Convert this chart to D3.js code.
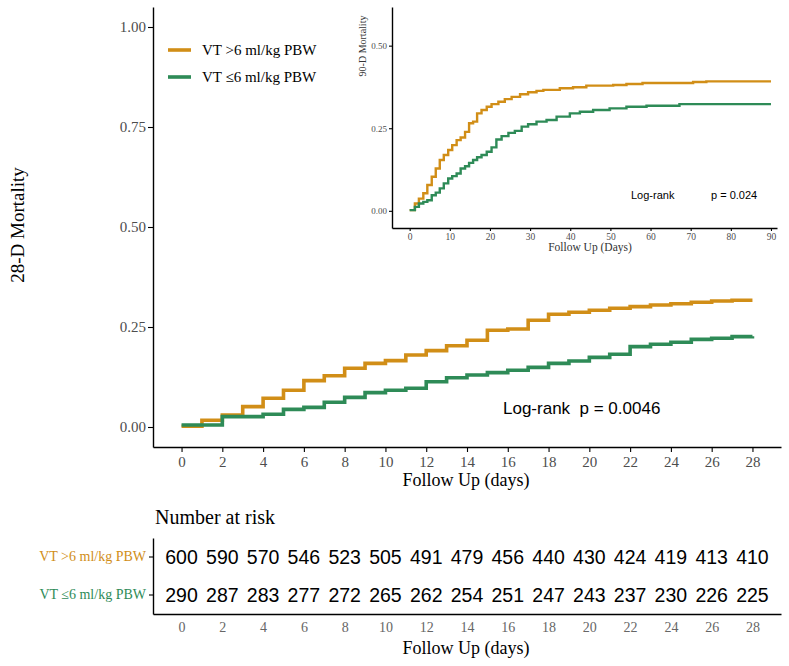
<!DOCTYPE html>
<html>
  <head>
    <meta charset="utf-8" />
    <title>28-D Mortality</title>
    <script src="https://d3js.org/d3.v7.min.js"></script>
    <style>
      body { margin: 0; background: #fff; }
    </style>
  </head>
  <body>
    <svg id="chart" width="789" height="666"></svg>
    <script>
      // groups and colours
      const groups = ["VT >6 ml/kg PBW", "VT \u22646 ml/kg PBW"];
      const colors = ["#D18E17", "#2E8B57"];

      // 28-day curves: value held from each day to the next
      const days28 = d3.range(0, 29);
      const high28 = [0.002, 0.017, 0.030, 0.051, 0.072, 0.092, 0.116, 0.128, 0.147, 0.159,
        0.166, 0.180, 0.191, 0.203, 0.217, 0.242, 0.245, 0.267, 0.282, 0.287,
        0.292, 0.297, 0.301, 0.305, 0.308, 0.312, 0.315, 0.317, 0.317];
      const low28 = [0.005, 0.005, 0.026, 0.026, 0.032, 0.044, 0.049, 0.062, 0.074, 0.086,
        0.092, 0.097, 0.113, 0.123, 0.130, 0.136, 0.142, 0.149, 0.159, 0.165,
        0.174, 0.182, 0.201, 0.207, 0.212, 0.219, 0.222, 0.226, 0.227];

      // 90-day curves (inset)
      const highDays90 = [0, 1.3, 2.3, 3.4, 4.4, 5.5, 6.5, 7.5, 8.5, 9.6, 10.6, 11.7, 12.7, 13.8,
        14.8, 15.8, 16.8, 17.9, 19.2, 20.4, 22.1, 23.7, 25.4, 27.5, 29.5, 31.6, 33.3,
        37.4, 40.7, 44, 50.7, 54, 58, 70.6, 73.9, 90];
      const high90 = [0.002, 0.022, 0.037, 0.053, 0.078, 0.103, 0.128, 0.154, 0.169, 0.184,
        0.199, 0.214, 0.222, 0.239, 0.265, 0.270, 0.295, 0.305, 0.315, 0.323, 0.330,
        0.338, 0.345, 0.353, 0.359, 0.363, 0.366, 0.371, 0.374, 0.379, 0.381, 0.384,
        0.387, 0.390, 0.392, 0.392];
      const lowDays90 = [0, 1.3, 2.3, 3.4, 4.4, 5.5, 6.5, 7.5, 8.5, 9.6, 10.6, 11.7, 12.7, 13.8,
        14.8, 15.8, 16.8, 17.9, 19.2, 20.4, 21.6, 22.9, 24.6, 26.2, 27.9, 29.5, 31.6,
        34.1, 36.6, 39.9, 42.4, 45.7, 49.8, 54, 59, 67.2, 90];
      const low90 = [0.002, 0.012, 0.022, 0.027, 0.032, 0.047, 0.055, 0.068, 0.083, 0.098,
        0.105, 0.113, 0.128, 0.135, 0.145, 0.154, 0.162, 0.169, 0.179, 0.192, 0.216,
        0.226, 0.236, 0.242, 0.255, 0.262, 0.270, 0.275, 0.285, 0.295, 0.300, 0.305,
        0.310, 0.315, 0.318, 0.323, 0.323];

      // number at risk
      const riskDays = d3.range(0, 29, 2);
      const riskHigh = [600, 590, 570, 546, 523, 505, 491, 479, 456, 440, 430, 424, 419, 413, 410];
      const riskLow = [290, 287, 283, 277, 272, 265, 262, 254, 251, 247, 243, 237, 230, 226, 225];

      const mainTicksY = [0, 0.25, 0.5, 0.75, 1];
      const insetTicksY = [0, 0.25, 0.5];
      const insetTicksX = d3.range(0, 91, 10);

      const serif = "'Liberation Serif', 'Times New Roman', serif";
      const sans = "'Liberation Sans', Arial, sans-serif";

      const svg = d3.select("#chart");
      svg.append("rect").attr("width", 789).attr("height", 666).attr("fill", "#fff");

      function styleAxis(g, size, color) {
        g.select(".domain").attr("stroke", "#000").attr("stroke-width", 1.4);
        g.selectAll(".tick line").attr("stroke", "#000").attr("stroke-width", 1.1);
        g.selectAll(".tick text")
          .attr("fill", color)
          .style("font-family", serif)
          .style("font-size", size + "px");
      }

      // ---------- main plot ----------
      const x = d3.scaleLinear().domain([-1.4, 29.4]).range([153, 781]);
      const y = d3.scaleLinear().domain([-0.05, 1.05]).range([447, 7]);

      const line28 = d3.line()
        .x((d) => x(d[0]))
        .y((d) => y(d[1]))
        .curve(d3.curveStepAfter);

      [high28, low28].forEach((vals, i) => {
        svg.append("path")
          .datum(days28.map((d, j) => [d, vals[j]]))
          .attr("fill", "none")
          .attr("stroke", colors[i])
          .attr("stroke-width", 3.6)
          .attr("d", line28);
      });

      svg.append("g")
        .attr("transform", "translate(153,0)")
        .call(d3.axisLeft(y).tickValues(mainTicksY).tickFormat(d3.format(".2f"))
          .tickSize(5).tickSizeOuter(0).tickPadding(2))
        .call((g) => styleAxis(g, 15, "#4d4d4d"));

      svg.append("g")
        .attr("transform", "translate(0,447)")
        .call(d3.axisBottom(x).tickValues(riskDays).tickSize(5).tickSizeOuter(0).tickPadding(4))
        .call((g) => styleAxis(g, 15, "#4d4d4d"));

      svg.append("text")
        .attr("transform", "translate(24,225) rotate(-90)")
        .attr("text-anchor", "middle")
        .style("font-family", serif)
        .style("font-size", "19px")
        .text("28-D Mortality");

      svg.append("text")
        .attr("x", 466).attr("y", 486)
        .attr("text-anchor", "middle")
        .style("font-family", serif)
        .style("font-size", "18px")
        .text("Follow Up (days)");

      svg.append("text")
        .attr("x", 503).attr("y", 414)
        .style("font-family", sans)
        .style("font-size", "17px")
        .attr("xml:space", "preserve")
        .text("Log-rank  p = 0.0046");

      // legend
      groups.forEach((g, i) => {
        const ly = 50 + i * 27;
        svg.append("line")
          .attr("x1", 168).attr("x2", 191).attr("y1", ly).attr("y2", ly)
          .attr("stroke", colors[i]).attr("stroke-width", 3.6);
        svg.append("text")
          .attr("x", 202).attr("y", ly + 5)
          .style("font-family", serif)
          .style("font-size", "15px")
          .text(g);
      });

      // ---------- inset ----------
      const ix = d3.scaleLinear().domain([-4.4, 91.5]).range([392, 777]);
      const iy = d3.scaleLinear().domain([-0.052, 0.617]).range([228, 7]);

      const line90 = d3.line()
        .x((d) => ix(d[0]))
        .y((d) => iy(d[1]))
        .curve(d3.curveStepAfter);

      [[highDays90, high90], [lowDays90, low90]].forEach(([ds, vals], i) => {
        svg.append("path")
          .datum(ds.map((d, j) => [d, vals[j]]))
          .attr("fill", "none")
          .attr("stroke", colors[i])
          .attr("stroke-width", 2.4)
          .attr("d", line90);
      });

      svg.append("g")
        .attr("transform", "translate(392,0)")
        .call(d3.axisLeft(iy).tickValues(insetTicksY).tickFormat(d3.format(".2f"))
          .tickSize(3).tickSizeOuter(0).tickPadding(2))
        .call((g) => styleAxis(g, 9, "#4d4d4d"));

      svg.append("g")
        .attr("transform", "translate(0,228)")
        .call(d3.axisBottom(ix).tickValues(insetTicksX).tickSize(3).tickSizeOuter(0).tickPadding(2))
        .call((g) => styleAxis(g, 9.5, "#4d4d4d"));

      svg.append("text")
        .attr("transform", "translate(366,46) rotate(-90)")
        .attr("text-anchor", "middle")
        .attr("fill", "#333")
        .style("font-family", serif)
        .style("font-size", "10px")
        .text("90-D Mortality");

      svg.append("text")
        .attr("x", 590).attr("y", 251)
        .attr("text-anchor", "middle")
        .attr("fill", "#333")
        .style("font-family", serif)
        .style("font-size", "11.5px")
        .text("Follow Up (Days)");

      svg.append("text")
        .attr("x", 631).attr("y", 199)
        .style("font-family", sans)
        .style("font-size", "11px")
        .text("Log-rank");
      svg.append("text")
        .attr("x", 711).attr("y", 199)
        .style("font-family", sans)
        .style("font-size", "11px")
        .text("p = 0.024");

      // ---------- number at risk ----------
      svg.append("text")
        .attr("x", 155).attr("y", 524)
        .style("font-family", serif)
        .style("font-size", "20px")
        .text("Number at risk");

      const ry = d3.scaleBand().domain(groups).range([538, 614]);

      const ryAxis = svg.append("g")
        .attr("transform", "translate(153,0)")
        .call(d3.axisLeft(ry).tickSize(4).tickSizeOuter(0).tickPadding(3))
        .call((g) => styleAxis(g, 14, "#000"));
      ryAxis.selectAll(".tick text").attr("fill", (d, i) => colors[i]);

      svg.append("g")
        .attr("transform", "translate(0,614)")
        .call(d3.axisBottom(x).tickValues(riskDays).tickSize(0).tickSizeOuter(0).tickPadding(8))
        .call((g) => styleAxis(g, 14, "#666"));

      [riskHigh, riskLow].forEach((vals, i) => {
        svg.append("g")
          .selectAll("text")
          .data(vals)
          .join("text")
          .attr("x", (d, j) => x(riskDays[j]))
          .attr("y", ry(groups[i]) + ry.bandwidth() / 2)
          .attr("dy", "0.36em")
          .attr("text-anchor", "middle")
          .style("font-family", sans)
          .style("font-size", "19.5px")
          .text((d) => d);
      });

      svg.append("text")
        .attr("x", 466).attr("y", 654)
        .attr("text-anchor", "middle")
        .style("font-family", serif)
        .style("font-size", "18px")
        .text("Follow Up (days)");
    </script>
  </body>
</html>
